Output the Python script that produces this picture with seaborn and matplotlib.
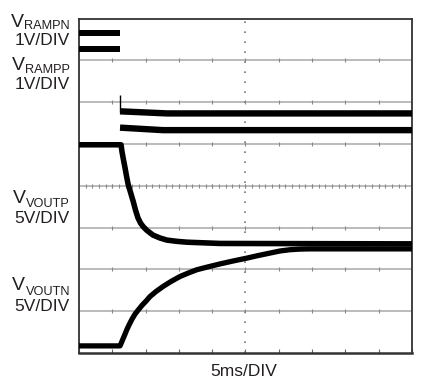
import matplotlib
matplotlib.use("Agg")
import matplotlib.pyplot as plt
import seaborn as sns
import pandas as pd
import numpy as np

# time in ms (5ms/DIV, 10 divisions), level in screen divisions (8 divisions)
ramp_n_hi_t = [0.0, 6.16]
ramp_n_hi_v = [7.66, 7.66]
ramp_n_lo_t = [0.0, 6.16]
ramp_n_lo_v = [7.28, 7.28]

ramp_p_hi_t = [6.16, 13.2, 50.0]
ramp_p_hi_v = [5.78, 5.73, 5.73]
ramp_p_lo_t = [6.16, 12.6, 50.0]
ramp_p_lo_v = [5.39, 5.33, 5.33]
spike_t = [6.16, 6.16]
spike_v = [6.17, 5.77]

voutp_t = [0.0, 6.31, 6.46, 6.68, 6.91, 7.16, 7.40, 7.76, 8.15, 8.48, 8.86,
           9.23, 9.65, 10.21, 11.11, 12.16, 13.21, 14.71, 16.22, 21.17, 50.0]
voutp_v = [4.98, 4.98, 4.81, 4.62, 4.43, 4.21, 4.02, 3.83, 3.62, 3.42, 3.23,
           3.11, 3.02, 2.93, 2.82, 2.75, 2.70, 2.67, 2.65, 2.62, 2.61]

voutn_t = [0.0, 6.16, 6.38, 6.61, 6.88, 7.16, 7.51, 7.96, 8.41, 8.90, 9.46,
           10.06, 10.66, 11.56, 12.61, 13.81, 15.17, 16.37, 17.67, 19.37,
           21.17, 23.12, 25.23, 26.88, 28.68, 30.18, 31.68, 33.18, 34.68, 50.0]
voutn_v = [0.17, 0.17, 0.25, 0.34, 0.44, 0.55, 0.67, 0.81, 0.93, 1.03, 1.14,
           1.24, 1.35, 1.47, 1.59, 1.71, 1.83, 1.91, 1.99, 2.06,
           2.13, 2.20, 2.27, 2.33, 2.39, 2.44, 2.47, 2.485, 2.49, 2.49]

traces = [
    ("ramp_n_hi", ramp_n_hi_t, ramp_n_hi_v, 4.3),
    ("ramp_n_lo", ramp_n_lo_t, ramp_n_lo_v, 4.3),
    ("ramp_p_hi", ramp_p_hi_t, ramp_p_hi_v, 4.6),
    ("ramp_p_lo", ramp_p_lo_t, ramp_p_lo_v, 4.6),
    ("spike", spike_t, spike_v, 1.0),
    ("voutp", voutp_t, voutp_v, 4.0),
    ("voutn", voutn_t, voutn_v, 3.8),
]

INK = "#231f20"
GRID = "#a8a8a8"

sns.set_style("white")
plt.rcParams["font.family"] = ["Liberation Sans", "DejaVu Sans"]

fig = plt.figure(figsize=(4.35, 3.9), dpi=100)
ax = fig.add_axes([79 / 435, 1 - 353 / 390, 333 / 435, 334.5 / 390])
ax.set_xlim(0, 50)
ax.set_ylim(0, 8)

# graticule
for y in range(1, 8):
    ax.axhline(y, color=GRID, lw=1.1, zorder=1)
ax.axvline(25, color="#777777", lw=1.2, linestyle=(0, (1, 5)), zorder=1)
gx, gy = np.meshgrid(np.arange(5, 50, 5), np.arange(1, 8))
ax.plot(gx.ravel(), gy.ravel(), ls="none", marker="|", ms=3, mew=0.8,
        color="#888888", zorder=1)
fine = np.arange(1, 50, 1.0)
ax.plot(fine, np.full_like(fine, 4.0), ls="none", marker="|", ms=2.5, mew=0.8,
        color="#888888", zorder=1)

for name, t, v, lw in traces:
    df = pd.DataFrame({"t": t, "v": v})
    sns.lineplot(data=df, x="t", y="v", estimator=None, sort=False,
                 color="black", linewidth=lw, ax=ax, zorder=3,
                 solid_capstyle="butt", solid_joinstyle="round")

ax.set_xticks(np.arange(0, 51, 5))
ax.set_yticks(np.arange(0, 9, 1))
ax.set_xticklabels([])
ax.set_yticklabels([])
ax.tick_params(direction="in", length=3, width=0.8, color="#666666",
               bottom=True, left=False)
ax.set_xlabel("")
ax.set_ylabel("")
for side, sp in ax.spines.items():
    sp.set_color("#333333")
    sp.set_linewidth(1.3)
ax.spines["bottom"].set_linewidth(1.8)


def fx(px):
    return px / 435


def fy(py):
    return 1 - py / 390


labels = [
    # V baseline, sub baseline, sub text, scale text, scale baseline
    (27, 29, "RAMPN", "1V/DIV", 45),
    (70, 73, "RAMPP", "1V/DIV", 89),
    (203, 207, "VOUTP", "5V/DIV", 223),
    (290, 295, "VOUTN", "5V/DIV", 311),
]
renderer = fig.canvas.get_renderer()
for vy, sy, sub, scale, scy in labels:
    st = fig.text(fx(70), fy(sy), sub, fontsize=9.2, color=INK, va="baseline", ha="right")
    left = st.get_window_extent(renderer).x0
    fig.text(fx(left - 0.5), fy(vy), "V", fontsize=14, color=INK, va="baseline", ha="right")
    fig.text(fx(70), fy(scy), scale, fontsize=12.5, color=INK, va="baseline", ha="right")

fig.text(fx(244), fy(376), "5ms/DIV", fontsize=12.5, color=INK, va="baseline", ha="center")

fig.savefig("out.png", dpi=100)
